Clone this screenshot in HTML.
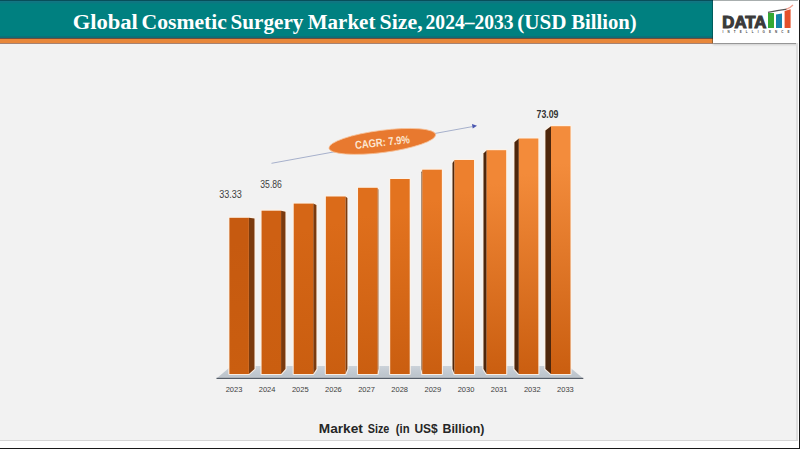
<!DOCTYPE html>
<html><head><meta charset="utf-8"><title>Global Cosmetic Surgery Market Size</title>
<style>
*{margin:0;padding:0;box-sizing:border-box}
html,body{width:800px;height:449px;overflow:hidden;background:#F2F2F2}
body{position:relative;font-family:"Liberation Sans",Arial,sans-serif}
.hdr{position:absolute;left:0;top:0;width:713px;height:38px;background:linear-gradient(#074F5A 0px,#074F5A 1px,#127684 1px,#127684 2px,#0C7780 2px,#0C7780 3px,#067C80 3px,#067C80 4px,#008080 4px,#008080 36px,#0B737A 36px,#0F6E76 37px,#0F6E76 38px)}
.stripe{position:absolute;left:0;top:38px;width:713px;height:6px;background:linear-gradient(#6E4C3C 0px,#6E4C3C 1px,#E8873A 1px,#E8873A 5px,#A68272 5px,#A68272 6px)}
.logo{position:absolute;left:713px;top:0;width:85px;height:43px;background:#FFFFFF;box-shadow:inset 0 1px 0 #A8AEAE,-1px 0 0 rgba(0,40,40,0.35),0 1px 0 rgba(0,0,0,0.28),0 2px 2px rgba(0,0,0,0.15)}
.rb1{position:absolute;left:796px;top:43px;width:2px;height:398px;background:#DEDEDE}
.rb2{position:absolute;left:798px;top:0;width:1px;height:449px;background:#FFFFFF}
.rb3{position:absolute;left:799px;top:0;width:1px;height:449px;background:#1A1A1A}
.bb1{position:absolute;left:0;top:440px;width:798px;height:1px;background:#D6D6D6}
.bb2{position:absolute;left:0;top:441px;width:799px;height:7px;background:#FFFFFF}
.bb3{position:absolute;left:0;top:448px;width:800px;height:1px;background:#1A1A1A}
svg{position:absolute;left:0;top:0}
</style></head><body>
<div class="hdr"></div>
<div class="stripe"></div>
<svg class="ttl" width="713" height="38" viewBox="0 0 713 38"><g font-family="Liberation Serif, Times New Roman, serif" font-weight="bold" font-size="20.8" fill="#FFFFFF"><text x="72.70" y="28.6" textLength="65.20" lengthAdjust="spacingAndGlyphs">Global</text><text x="141.60" y="28.6" textLength="85.30" lengthAdjust="spacingAndGlyphs">Cosmetic</text><text x="230.60" y="28.6" textLength="72.80" lengthAdjust="spacingAndGlyphs">Surgery</text><text x="307.80" y="28.6" textLength="67.60" lengthAdjust="spacingAndGlyphs">Market</text><text x="379.50" y="28.6" textLength="43.10" lengthAdjust="spacingAndGlyphs">Size,</text><text x="425.60" y="28.6" textLength="87.90" lengthAdjust="spacingAndGlyphs">2024–2033</text><text x="517.20" y="28.6" textLength="49.20" lengthAdjust="spacingAndGlyphs">(USD</text><text x="571.20" y="28.6" textLength="65.40" lengthAdjust="spacingAndGlyphs">Billion)</text></g></svg>
<div class="logo">
<svg width="85" height="43" viewBox="0 0 85 43">
<text x="9.3" y="27.6" font-family="Liberation Sans, Arial, sans-serif" font-weight="bold" font-size="16.5" fill="#3A3A3A" stroke="#3A3A3A" stroke-width="1.1" stroke-linejoin="miter" textLength="44" lengthAdjust="spacingAndGlyphs">DATA</text>
<rect x="55" y="13" width="6" height="15" fill="#35A833"/>
<polygon points="63,14.6 69,13.6 69,28 63,28" fill="#1682AA"/>
<polygon points="71.6,11 77.6,9.2 77.6,28 71.6,28" fill="#E4502A"/>
<path d="M55,12.3 Q64,10.5 74,9.2" stroke="#555" stroke-width="1.2" fill="none"/>
<path d="M73,9.4 Q77,8.2 80,5" stroke="#F0A090" stroke-width="1.2" fill="none"/>
<text x="9.6" y="32.8" font-family="Liberation Sans, Arial, sans-serif" font-weight="bold" font-size="3" fill="#444" textLength="67" lengthAdjust="spacing">INTELLIGENCE</text>
</svg>
</div>
<svg width="800" height="449" viewBox="0 0 800 449">
<defs>
<linearGradient id="floor" x1="0" y1="0" x2="0" y2="1"><stop offset="0" stop-color="#CBD2D9"/><stop offset="0.75" stop-color="#BDC5CD"/><stop offset="1" stop-color="#C4C9CE"/></linearGradient>
<linearGradient id="g0" x1="0" y1="0" x2="0" y2="1"><stop offset="0" stop-color="#C65A10"/><stop offset="0.15" stop-color="#C65A10"/><stop offset="1" stop-color="#CA5E10"/></linearGradient>
<linearGradient id="g1" x1="0" y1="0" x2="0" y2="1"><stop offset="0" stop-color="#CE6013"/><stop offset="0.15" stop-color="#CE6013"/><stop offset="1" stop-color="#CA5E10"/></linearGradient>
<linearGradient id="g2" x1="0" y1="0" x2="0" y2="1"><stop offset="0" stop-color="#D56616"/><stop offset="0.15" stop-color="#D56616"/><stop offset="1" stop-color="#CA5E10"/></linearGradient>
<linearGradient id="g3" x1="0" y1="0" x2="0" y2="1"><stop offset="0" stop-color="#DB6B19"/><stop offset="0.15" stop-color="#DB6B19"/><stop offset="1" stop-color="#CA5E10"/></linearGradient>
<linearGradient id="g4" x1="0" y1="0" x2="0" y2="1"><stop offset="0" stop-color="#DF6F1C"/><stop offset="0.15" stop-color="#DF6F1C"/><stop offset="1" stop-color="#CA5E10"/></linearGradient>
<linearGradient id="g5" x1="0" y1="0" x2="0" y2="1"><stop offset="0" stop-color="#E3731F"/><stop offset="0.15" stop-color="#E3731F"/><stop offset="1" stop-color="#CA5E10"/></linearGradient>
<linearGradient id="g6" x1="0" y1="0" x2="0" y2="1"><stop offset="0" stop-color="#E87926"/><stop offset="0.15" stop-color="#E87926"/><stop offset="1" stop-color="#CA5E10"/></linearGradient>
<linearGradient id="g7" x1="0" y1="0" x2="0" y2="1"><stop offset="0" stop-color="#ED802E"/><stop offset="0.15" stop-color="#ED802E"/><stop offset="1" stop-color="#CA5E10"/></linearGradient>
<linearGradient id="g8" x1="0" y1="0" x2="0" y2="1"><stop offset="0" stop-color="#F18736"/><stop offset="0.15" stop-color="#F18736"/><stop offset="1" stop-color="#CA5E10"/></linearGradient>
<linearGradient id="g9" x1="0" y1="0" x2="0" y2="1"><stop offset="0" stop-color="#F38B3A"/><stop offset="0.15" stop-color="#F38B3A"/><stop offset="1" stop-color="#CA5E10"/></linearGradient>
<linearGradient id="g10" x1="0" y1="0" x2="0" y2="1"><stop offset="0" stop-color="#F38C3C"/><stop offset="0.15" stop-color="#F38C3C"/><stop offset="1" stop-color="#CA5E10"/></linearGradient>
</defs>
<polygon points="216.5,378.5 231.3,366 568.3,366 583.3,378.5" fill="url(#floor)"/>
<rect x="216.5" y="377.8" width="366.8" height="1.2" fill="#555D68"/>
<g fill="#FFF2E6" stroke="#FFF2E6" stroke-width="2.2" stroke-linejoin="round" opacity="0.9"><polygon points="229.40,217.80 248.90,217.80 254.49,218.62 254.49,369.04 248.90,374.00 229.40,374.00"/>
<polygon points="261.56,210.70 281.06,210.70 285.46,211.78 285.46,369.04 281.06,374.00 261.56,374.00"/>
<polygon points="293.72,203.60 313.22,203.60 316.43,204.95 316.43,369.04 313.22,374.00 293.72,374.00"/>
<polygon points="325.88,196.50 345.38,196.50 347.40,198.11 347.40,369.04 345.38,374.00 325.88,374.00"/>
<polygon points="358.04,187.80 377.54,187.80 378.37,189.73 378.37,369.04 377.54,374.00 358.04,374.00"/>
<polygon points="390.20,179.00 409.70,179.00 409.70,374.00 390.20,374.00"/>
<polygon points="422.36,169.70 421.53,172.30 421.53,369.04 422.36,374.00 441.86,374.00 441.86,169.70"/>
<polygon points="454.52,160.00 452.50,162.96 452.50,369.04 454.52,374.00 474.02,374.00 474.02,160.00"/>
<polygon points="486.68,150.20 483.47,153.52 483.47,369.04 486.68,374.00 506.18,374.00 506.18,150.20"/>
<polygon points="518.84,138.50 514.44,142.26 514.44,369.04 518.84,374.00 538.34,374.00 538.34,138.50"/>
<polygon points="551.00,126.20 545.41,130.41 545.41,369.04 551.00,374.00 570.50,374.00 570.50,126.20"/></g>
<polygon points="248.90,217.80 254.49,218.62 254.49,369.04 248.90,374.00" fill="#7A3A0E"/>
<rect x="229.40" y="217.80" width="19.5" height="156.20" fill="url(#g0)"/>
<polygon points="281.06,210.70 285.46,211.78 285.46,369.04 281.06,374.00" fill="#7A3A0E"/>
<rect x="261.56" y="210.70" width="19.5" height="163.30" fill="url(#g1)"/>
<polygon points="313.22,203.60 316.43,204.95 316.43,369.04 313.22,374.00" fill="#7A3A0E"/>
<rect x="293.72" y="203.60" width="19.5" height="170.40" fill="url(#g2)"/>
<polygon points="345.38,196.50 347.40,198.11 347.40,369.04 345.38,374.00" fill="#7A3A0E"/>
<rect x="325.88" y="196.50" width="19.5" height="177.50" fill="url(#g3)"/>
<polygon points="377.54,187.80 378.37,189.73 378.37,369.04 377.54,374.00" fill="#7A3A0E"/>
<rect x="358.04" y="187.80" width="19.5" height="186.20" fill="url(#g4)"/>
<rect x="390.20" y="179.00" width="19.5" height="195.00" fill="url(#g5)"/>
<polygon points="422.36,169.70 421.53,172.30 421.53,369.04 422.36,374.00" fill="#4D260C"/>
<rect x="422.36" y="169.70" width="19.5" height="204.30" fill="url(#g6)"/>
<polygon points="454.52,160.00 452.50,162.96 452.50,369.04 454.52,374.00" fill="#4D260C"/>
<rect x="454.52" y="160.00" width="19.5" height="214.00" fill="url(#g7)"/>
<polygon points="486.68,150.20 483.47,153.52 483.47,369.04 486.68,374.00" fill="#4D260C"/>
<rect x="486.68" y="150.20" width="19.5" height="223.80" fill="url(#g8)"/>
<polygon points="518.84,138.50 514.44,142.26 514.44,369.04 518.84,374.00" fill="#4D260C"/>
<rect x="518.84" y="138.50" width="19.5" height="235.50" fill="url(#g9)"/>
<polygon points="551.00,126.20 545.41,130.41 545.41,369.04 551.00,374.00" fill="#4D260C"/>
<rect x="551.00" y="126.20" width="19.5" height="247.80" fill="url(#g10)"/>
<g font-family="Liberation Sans, Arial, sans-serif" font-size="7.5" fill="#404040">
<text x="234.00" y="391.5" text-anchor="middle">2023</text>
<text x="267.14" y="391.5" text-anchor="middle">2024</text>
<text x="300.28" y="391.5" text-anchor="middle">2025</text>
<text x="333.42" y="391.5" text-anchor="middle">2026</text>
<text x="366.56" y="391.5" text-anchor="middle">2027</text>
<text x="399.70" y="391.5" text-anchor="middle">2028</text>
<text x="432.84" y="391.5" text-anchor="middle">2029</text>
<text x="465.98" y="391.5" text-anchor="middle">2030</text>
<text x="499.12" y="391.5" text-anchor="middle">2031</text>
<text x="532.26" y="391.5" text-anchor="middle">2032</text>
<text x="565.40" y="391.5" text-anchor="middle">2033</text>
</g>
<g font-family="Liberation Sans, Arial, sans-serif" font-size="10" fill="#404040">
<text x="219.3" y="198" textLength="22.6" lengthAdjust="spacingAndGlyphs">33.33</text>
<text x="260.3" y="187.8" textLength="21.6" lengthAdjust="spacingAndGlyphs">35.86</text>
<text x="536.6" y="117.5" font-weight="bold" fill="#333" textLength="21.9" lengthAdjust="spacingAndGlyphs">73.09</text>
</g>
<line x1="271.5" y1="163.3" x2="472.5" y2="126.6" stroke="#98A4C4" stroke-width="0.85"/>
<polygon points="477,125.8 472,123.9 472.7,128.4" fill="#4A56B0"/>
<g transform="translate(382.3,141.4) rotate(-7.3)">
<ellipse cx="0" cy="0" rx="53.8" ry="11.1" fill="#E8792F" stroke="#F7C49C" stroke-width="0.8"/>
</g>
<g transform="translate(382.3,142.0) rotate(-6.3)"><text x="0" y="4.0" text-anchor="middle" font-family="Liberation Sans, Arial, sans-serif" font-weight="bold" font-size="11.2" fill="#FCE7D2" textLength="55" lengthAdjust="spacingAndGlyphs">CAGR: 7.9%</text></g>
</svg>
<div class="rb1"></div><div class="rb2"></div><div class="rb3"></div>
<div class="bb1"></div><div class="bb2"></div><div class="bb3"></div>
<svg class="ax" width="800" height="449" viewBox="0 0 800 449"><g font-family="Liberation Sans, Arial, sans-serif" font-weight="bold" font-size="12" fill="#262626"><text x="318.80" y="433.2" textLength="44.10" lengthAdjust="spacingAndGlyphs">Market</text><text x="367.70" y="433.2" textLength="21.60" lengthAdjust="spacingAndGlyphs">Size</text><text x="395.80" y="433.2" textLength="13.80" lengthAdjust="spacingAndGlyphs">(in</text><text x="414.40" y="433.2" textLength="23.30" lengthAdjust="spacingAndGlyphs">US$</text><text x="442.50" y="433.2" textLength="41.90" lengthAdjust="spacingAndGlyphs">Billion)</text></g></svg>
</body></html>
